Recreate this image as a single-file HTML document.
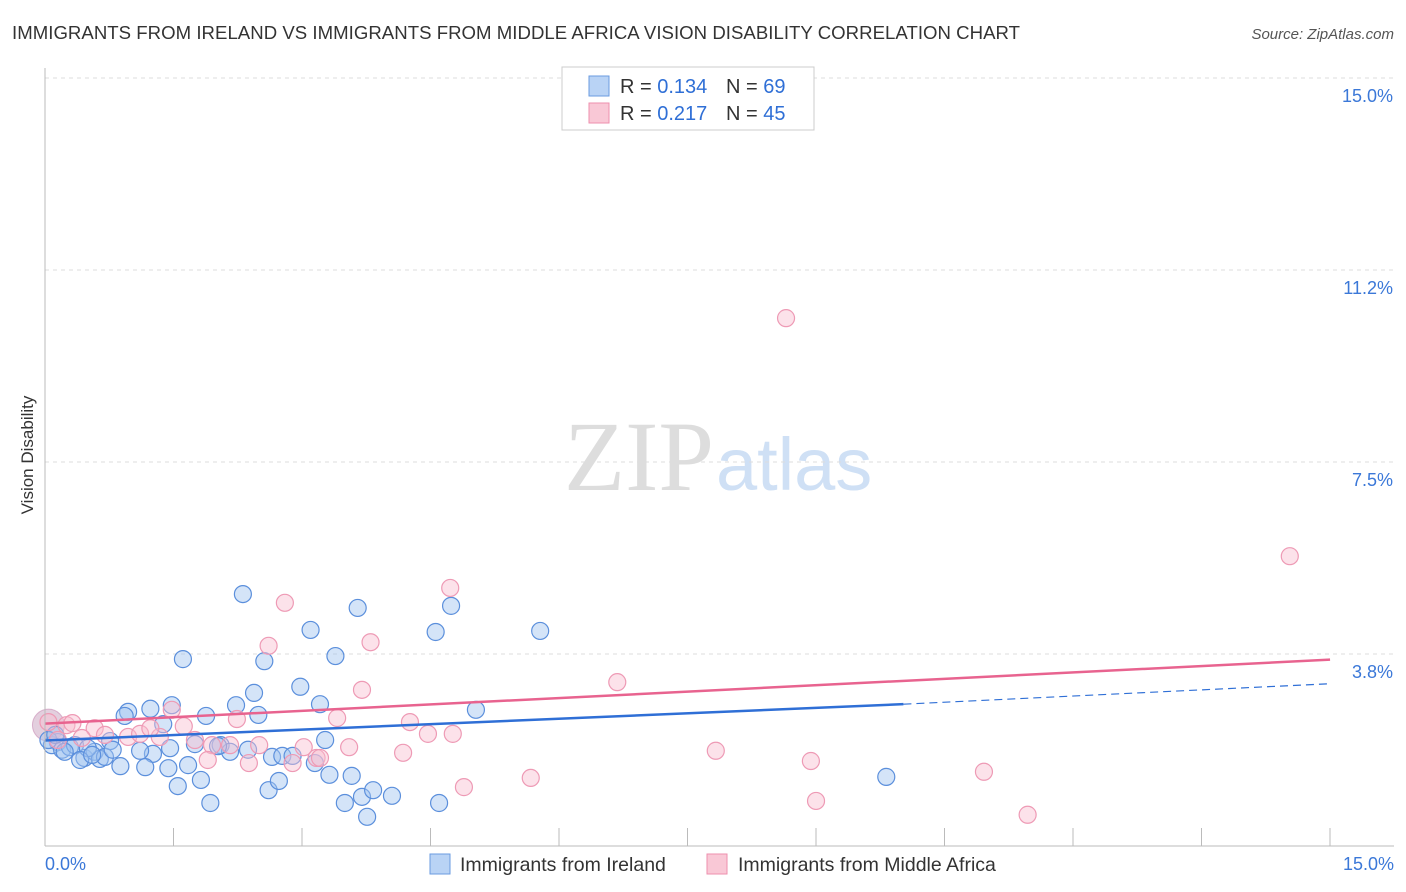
<!DOCTYPE html>
<html><head><meta charset="utf-8"><style>
body{margin:0;background:#fff;font-family:"Liberation Sans",sans-serif}
svg{display:block}
</style></head><body>
<svg width="1406" height="892" id="c">
<text x="12" y="39" font-size="18.6" fill="#333" textLength="1008">IMMIGRANTS FROM IRELAND VS IMMIGRANTS FROM MIDDLE AFRICA VISION DISABILITY CORRELATION CHART</text>
<text x="1394" y="39" font-size="15" fill="#555" font-style="italic" text-anchor="end">Source: ZipAtlas.com</text>
<text x="0" y="0" transform="translate(33,455) rotate(-90)" font-size="17" fill="#333" text-anchor="middle">Vision Disability</text>
<text x="714" y="490" font-size="100" fill="#ddd" text-anchor="end" font-family="Liberation Serif,serif">ZIP</text>
<text x="716" y="490" font-size="74" fill="#cfe0f5">atlas</text>
<g id="grid"></g><g id="pts"></g><g id="lines"></g>
<line x1="45" y1="68" x2="45" y2="846" stroke="#bbb"/>
<line x1="45" y1="846" x2="1394" y2="846" stroke="#bbb"/>
<text x="45" y="870" font-size="18" fill="#3b78d8">0.0%</text>
<text x="1394" y="870" font-size="18" fill="#3b78d8" text-anchor="end">15.0%</text>
<g>
<rect x="562" y="67" width="252" height="63" fill="#fff" stroke="#ccc"/>
<rect x="589" y="76" width="20" height="20" fill="#b9d3f5" stroke="#6a9be0"/>
<rect x="589" y="103" width="20" height="20" fill="#f9c8d6" stroke="#ee8fae"/>
<text x="620" y="93" font-size="20" fill="#333">R = <tspan fill="#2f6fd6">0.134</tspan></text>
<text x="726" y="93" font-size="20" fill="#333">N = <tspan fill="#2f6fd6">69</tspan></text>
<text x="620" y="120" font-size="20" fill="#333">R = <tspan fill="#2f6fd6">0.217</tspan></text>
<text x="726" y="120" font-size="20" fill="#333">N = <tspan fill="#2f6fd6">45</tspan></text>
</g>
<g>
<rect x="430" y="854" width="20" height="20" fill="#b9d3f5" stroke="#6a9be0"/>
<text x="460" y="871" font-size="19.5" fill="#333">Immigrants from Ireland</text>
<rect x="707" y="854" width="20" height="20" fill="#f9c8d6" stroke="#ee8fae"/>
<text x="738" y="871" font-size="19.5" fill="#333">Immigrants from Middle Africa</text>
</g>
</svg>
<script>
const yTicks=[3.75,7.5,11.25,15.0];
const yTickLabels=["3.8%","7.5%","11.2%","15.0%"];
const irelandX=[2.31,1.61,2.56,3.10,3.65,3.39,4.74,4.56,5.78,2.98,2.44,2.23,3.21,5.03,1.48,1.23,0.97,0.93,1.88,2.49,1.38,0.76,1.75,3.27,2.05,2.37,2.65,2.77,2.89,3.15,1.67,1.26,1.11,0.88,1.17,1.44,2.16,2.02,1.82,1.55,1.93,2.61,2.73,3.32,3.58,3.70,3.83,4.05,3.50,3.76,4.60,9.82,0.15,0.08,0.20,0.29,0.46,0.58,0.64,0.70,0.35,0.50,0.04,0.12,0.23,0.41,0.55,0.79,1.46];
const irelandY=[4.92,3.65,3.61,4.22,4.65,3.71,4.69,4.18,4.20,3.11,2.99,2.75,2.77,2.66,2.75,2.68,2.62,2.54,2.54,2.56,2.38,2.05,1.99,2.07,1.97,1.88,1.74,1.76,1.76,1.62,1.58,1.80,1.86,1.56,1.54,1.52,1.84,1.95,1.29,1.17,0.84,1.09,1.27,1.39,1.37,0.96,1.09,0.98,0.84,0.57,0.84,1.35,2.03,1.97,1.88,1.93,1.72,1.84,1.70,1.74,1.97,1.91,2.07,2.17,1.84,1.68,1.78,1.88,1.91];
const africaX=[8.65,14.53,4.73,2.80,2.61,3.80,6.68,3.70,1.48,1.62,2.24,3.41,4.26,4.47,4.76,3.02,3.55,4.18,1.75,1.95,2.50,2.16,2.38,2.89,3.17,3.21,7.83,8.94,10.96,5.67,4.89,9.00,11.47,0.04,0.25,0.32,0.58,0.70,0.97,1.11,1.34,0.15,0.43,1.90,1.23];
const africaY=[10.31,5.66,5.04,4.75,3.91,3.98,3.20,3.05,2.66,2.34,2.48,2.50,2.42,2.19,2.19,1.93,1.93,1.82,2.07,1.97,1.97,1.97,1.62,1.62,1.72,1.72,1.86,1.66,1.45,1.33,1.15,0.88,0.61,2.42,2.36,2.40,2.30,2.17,2.13,2.19,2.13,2.07,2.11,1.68,2.30];
const irelandTrend=[2.06,2.77,3.17];const africaTrend=[2.39,3.64];
const X=v=>45+v*85.67, Y=v=>846-v*51.2;
const NS="http://www.w3.org/2000/svg";
function mk(t,a,p){const e=document.createElementNS(NS,t);for(const k in a)e.setAttribute(k,a[k]);p.appendChild(e);return e;}
const grid=document.getElementById('grid');
yTicks.forEach((t,i)=>{
 const l=mk('line',{x1:45,x2:1394,y1:Y(t),y2:Y(t),stroke:'#ddd','stroke-dasharray':'4,4'},grid);
 
 
 const tx=mk('text',{x:1393,y:Y(t)+24,'font-size':18,fill:'#3b78d8','text-anchor':'end'},grid);
 tx.textContent=yTickLabels[i];
 
 
});
for(let i=1;i<=10;i++){const x=45+i*128.5;const l=mk('line',{x1:x,x2:x,y1:828,y2:846,stroke:'#bbb'},grid);
 
 }
const pts=document.getElementById('pts');
const big=mk('circle',{cx:X(0.04),cy:Y(2.36),r:16,fill:'rgba(200,160,190,0.5)',stroke:'rgba(200,140,180,0.6)'},pts);


irelandX.forEach((v,i)=>{const c=mk('circle',{cx:X(v),cy:Y(irelandY[i]),r:8.5,fill:'rgba(160,195,240,0.45)',stroke:'#5b8fdc','stroke-width':1.2},pts);
 
 });
africaX.forEach((v,i)=>{const c=mk('circle',{cx:X(v),cy:Y(africaY[i]),r:8.5,fill:'rgba(248,190,208,0.45)',stroke:'#ee9ab5','stroke-width':1.2},pts);
 
 });
const ln=document.getElementById('lines');
let a=mk('line',{x1:X(0),y1:Y(africaTrend[0]),x2:X(15),y2:Y(africaTrend[1]),stroke:'#e8638f','stroke-width':2.5},ln);


let b=mk('line',{x1:X(0),y1:Y(irelandTrend[0]),x2:X(10.02),y2:Y(irelandTrend[1]),stroke:'#2f6fd6','stroke-width':2.5},ln);


let d=mk('line',{x1:X(10.02),y1:Y(irelandTrend[1]),x2:X(15),y2:Y(irelandTrend[2]),stroke:'#2f6fd6','stroke-width':1.2,'stroke-dasharray':'8,5'},ln);


</script>
</body></html>
